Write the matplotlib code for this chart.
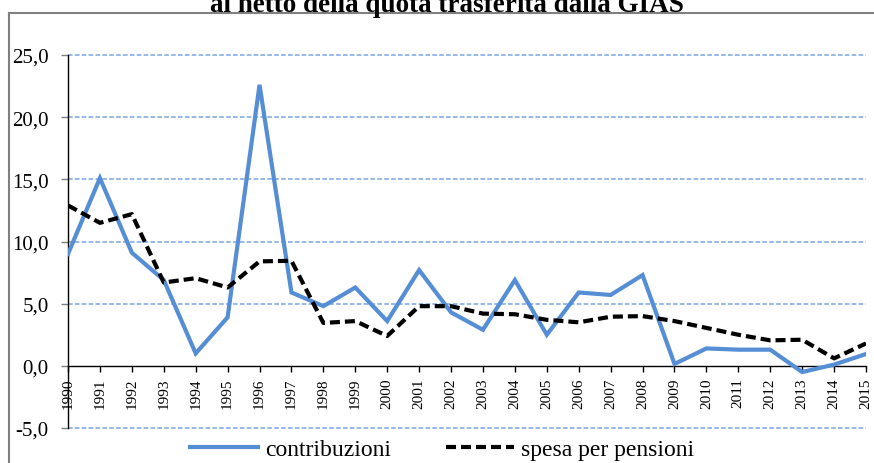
import matplotlib
matplotlib.use("Agg")
import matplotlib.pyplot as plt
from matplotlib.lines import Line2D
from matplotlib.ticker import FuncFormatter, FixedLocator

years = list(range(1990, 2016))
contribuzioni = [9.0, 15.1, 9.1, 6.9, 1.0, 3.9, 22.6, 5.9, 4.8, 6.3, 3.6, 7.7, 4.3,
                 2.9, 6.9, 2.5, 5.9, 5.7, 7.3, 0.15, 1.4, 1.3, 1.3, -0.5, 0.1, 0.95]
spesa_pensioni = [12.9, 11.5, 12.2, 6.7, 7.05, 6.3, 8.4, 8.45, 3.45, 3.6, 2.4, 4.8, 4.8,
                  4.2, 4.15, 3.7, 3.5, 3.95, 4.0, 3.6, 3.05, 2.5, 2.05, 2.1, 0.6, 1.8]
y_ticks = [-5, 0, 5, 10, 15, 20, 25]
title = "al netto della quota trasferita dalla GIAS"
labels = ["contribuzioni", "spesa per pensioni"]

plt.rcParams['font.family'] = ['Liberation Serif', 'DejaVu Serif']

W, H = 874, 464
fig = plt.figure(figsize=(W / 100, H / 100), dpi=100)
ax = fig.add_axes([68 / W, (H - 429) / H, (866 - 68) / W, (429 - 56) / H])

# gridlines
for v in y_ticks:
    if v != 0:
        ax.axhline(v, color='#79A5E2', lw=1.1, ls=(0, (3, 1.5)), zorder=1, clip_on=False)

l1, = ax.plot(years, contribuzioni, color='#558ED5', lw=3.0, zorder=3,
              solid_joinstyle='miter', label=labels[0])
l2, = ax.plot(years, spesa_pensioni, color='black', lw=3.0, ls=(0, (2.4, 1.2)),
              dash_capstyle='butt', zorder=4, label=labels[1])

ax.set_xlim(1990, 2015)
ax.set_ylim(-5, 25)

ax.spines['top'].set_visible(False)
ax.spines['right'].set_visible(False)
ax.spines['left'].set_color('black')
ax.spines['left'].set_linewidth(1.0)
ax.spines['bottom'].set_position(('data', 0))
ax.spines['bottom'].set_color('black')
ax.spines['bottom'].set_linewidth(1.0)
ax.spines['bottom'].set_zorder(2)

ax.xaxis.set_major_locator(FixedLocator(years))
ax.set_xticklabels([str(y) for y in years], rotation=90, fontsize=11)
ax.tick_params(axis='x', direction='out', length=4, width=1, color='black', pad=4.3)

ax.yaxis.set_major_locator(FixedLocator(y_ticks))
ax.yaxis.set_major_formatter(FuncFormatter(lambda v, p: f"{v:.1f}".replace('.', ',')))
ax.tick_params(axis='y', direction='out', length=5, width=1, color='#808080', pad=9,
               labelsize=15)

fig.text(447 / W, (H - 12) / H, title, ha='center', va='baseline', fontsize=19.5,
         fontweight='bold')

# chart border
fig.add_artist(Line2D([9 / W, 9 / W], [0, (H - 14) / H], transform=fig.transFigure,
                      color='#808080', lw=1.5))
fig.add_artist(Line2D([9 / W, 1.0], [(H - 14) / H, (H - 14) / H], transform=fig.transFigure,
                      color='#808080', lw=1.5))

fig.legend(handles=[l1, l2], loc='center', bbox_to_anchor=(442 / W, (H - 450) / H),
           ncol=2, frameon=False, fontsize=17, handlelength=2.9, handletextpad=0.3,
           columnspacing=2.3, borderaxespad=0, borderpad=0)

fig.savefig("out.png", dpi=100)
